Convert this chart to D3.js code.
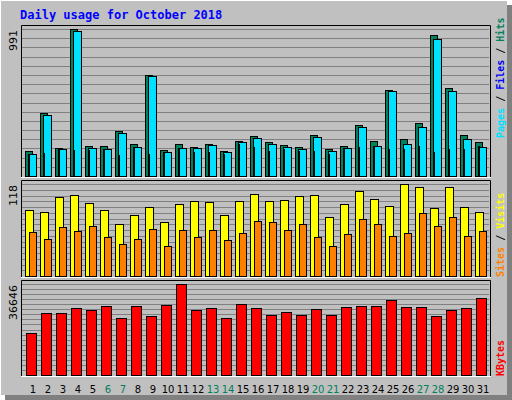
<!DOCTYPE html>
<html><head><meta charset="utf-8">
<script src="https://cdn.jsdelivr.net/npm/d3@7"></script>
<style>body{margin:0;background:#fff}</style>
</head><body>
<svg id="chart" width="512" height="400"></svg>
<script>
const days = d3.range(1, 32);
const weekend = [6, 7, 13, 14, 20, 21, 27, 28];
const hits = [168,425,189,991,202,202,303,216,681,175,216,196,216,168,236,270,229,209,196,276,182,202,344,236,580,249,357,950,593,276,229];
const files = [148,411,182,977,189,182,290,196,674,162,189,189,209,162,229,256,216,196,182,263,168,189,330,202,573,216,330,923,573,249,196];
const pages = [148,155,175,175,175,175,142,189,148,162,182,162,162,148,216,196,168,182,168,168,148,182,196,202,182,182,202,162,182,182,202];
const visits = [85,82,101,104,94,85,67,78,88,69,92,96,95,78,96,105,96,97,103,104,76,92,109,99,90,118,114,87,114,88,82];
const sites = [56,47,63,58,64,50,41,47,60,38,59,50,59,46,55,71,69,59,67,50,38,54,73,67,51,55,81,64,76,51,58];
const kbytes = [16911,24965,24965,26977,26172,27782,22950,27782,23755,28185,36646,26172,26977,22950,28590,26977,24160,25370,24160,26575,24160,27380,27782,27782,30200,27380,27380,23755,26172,26977,31000];

const svg = d3.select("#chart");

// outer frame with shadow
svg.append("rect").attr("x", 5).attr("y", 5).attr("width", 507).attr("height", 395).attr("fill", "#808080");
svg.append("rect").attr("x", 0).attr("y", 0).attr("width", 507).attr("height", 395).attr("fill", "#c0c0c0");
svg.append("path").attr("d", "M0.5,395V0.5H507").attr("stroke", "#fff").attr("fill", "none");

svg.append("text").attr("x", 20).attr("y", 19)
  .attr("font-family", "DejaVu Sans Mono").attr("font-weight", "bold").attr("font-size", 12)
  .attr("fill", "#0000ff").text("Daily usage for October 2018");

const x = d3.scaleLinear().domain([1, 31]).range([25, 475]);

function panel(top, bottom, max, lines) {
  const y = d3.scaleLinear().domain([0, max]).range([bottom, top]);
  const g = svg.append("g");
  g.append("rect").attr("x", 21).attr("y", top - 4).attr("width", 469).attr("height", bottom - top + 6).attr("fill", "#c0c0c0");
  d3.range(1, lines + 1).forEach(i => {
    const yy = Math.round(bottom - (bottom - top) * i / lines) + 0.5;
    g.append("line").attr("x1", 22).attr("x2", 489).attr("y1", yy).attr("y2", yy).attr("stroke", "#808080");
  });
  g.append("path").attr("d", `M21.5,${bottom + 2}V${top - 3.5}H490.5V${bottom + 2}`).attr("stroke", "#000").attr("fill", "none");
  g.append("line").attr("x1", 21).attr("x2", 491).attr("y1", bottom + 1.5).attr("y2", bottom + 1.5).attr("stroke", "#fff");
  g.append("text").attr("transform", `translate(17,${top + 1}) rotate(-90)`).attr("text-anchor", "end")
    .attr("font-family", "DejaVu Sans").attr("font-size", 11).attr("fill", "#000").text(max);
  return { g, y };
}

function bars(p, data, dx, w, color) {
  p.g.selectAll(null).data(data).enter().append("rect")
    .attr("x", (d, i) => x(days[i]) + dx + 0.5)
    .attr("y", d => Math.round(p.y(d)) + 0.5)
    .attr("width", w)
    .attr("height", d => p.y(0) - Math.round(p.y(d)))
    .attr("fill", color).attr("stroke", "#000");
}

const p1 = panel(29, 176, 991, 16);
bars(p1, hits, 0, 7, "#00805c");
bars(p1, files, 3, 8, "#00e0ff");
bars(p1, pages, 3, 1, "#0000ff");

const p2 = panel(184, 276, 118, 16);
bars(p2, visits, 0, 8, "#ffff00");
bars(p2, sites, 4, 7, "#ff8000");

const p3 = panel(284, 375, 36646, 18);
bars(p3, kbytes, 1, 10, "#ff0000");

// day labels
svg.selectAll(null).data(days).enter().append("text")
  .attr("x", d => x(d) + 8).attr("y", 393).attr("text-anchor", "middle")
  .attr("font-family", "DejaVu Sans").attr("font-size", 10)
  .attr("fill", d => weekend.includes(d) ? "#00805c" : "#000").text(d => d);

// right side legends
function legend(yStart, parts) {
  const t = svg.append("text").attr("transform", `translate(504,${yStart}) rotate(-90)`)
    .attr("font-family", "DejaVu Sans Mono").attr("font-weight", "bold").attr("font-size", 10);
  parts.forEach(([s, c]) => t.append("tspan").attr("fill", c).text(s));
}
legend(138, [["Pages", "#00e0ff"], [" / ", "#000"], ["Files", "#0000ff"], [" / ", "#000"], ["Hits", "#00805c"]]);
legend(277, [["Sites", "#ff8000"], [" / ", "#000"], ["Visits", "#ffff00"]]);
legend(376, [["KBytes", "#ff0000"]]);
</script>
</body></html>
